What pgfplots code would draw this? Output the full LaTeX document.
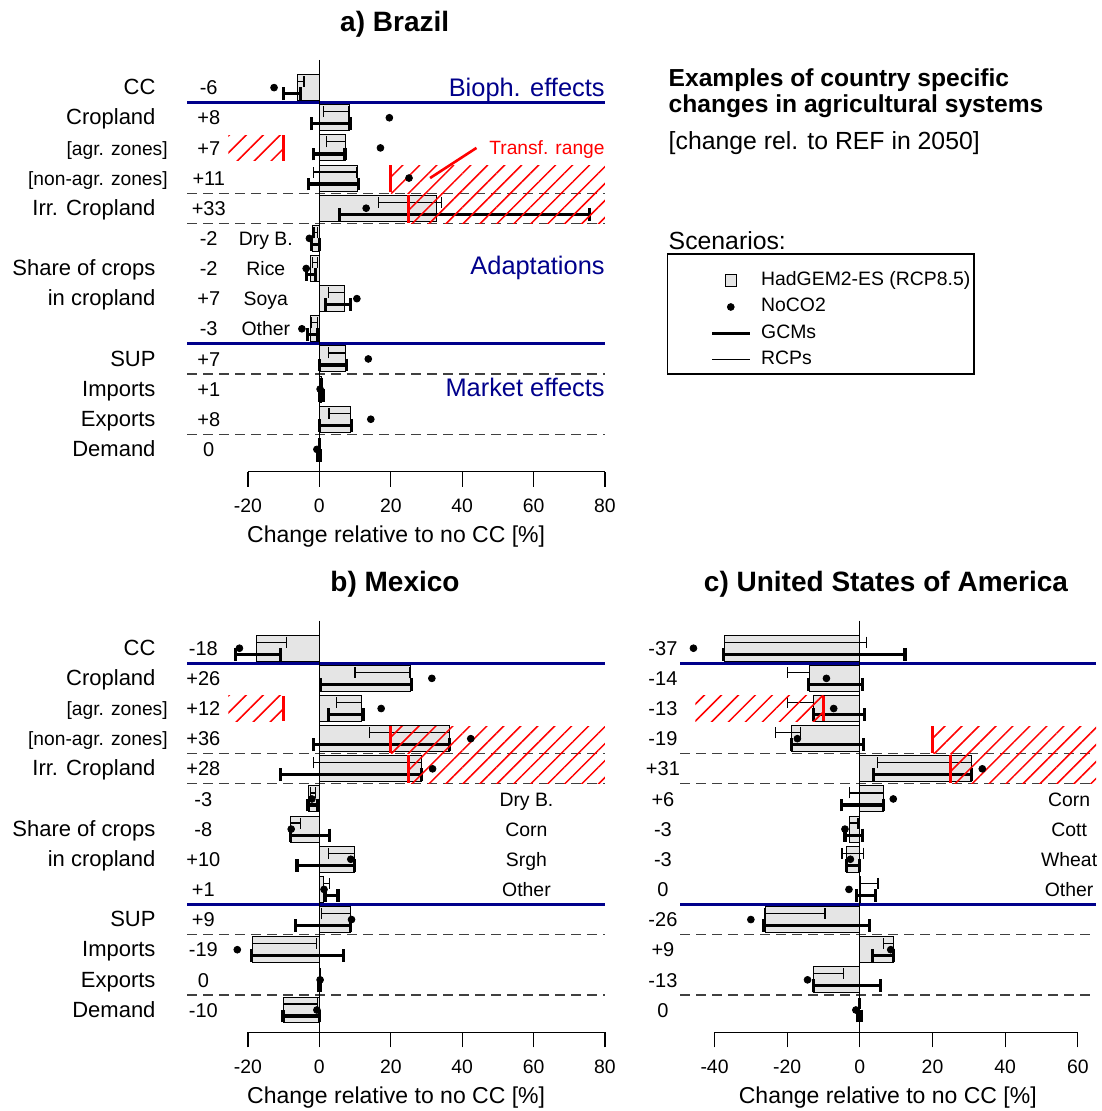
\documentclass[border=0pt]{standalone}
\usepackage{fontspec}
\setmainfont{Liberation Sans}
\usepackage{pgfplots}
\pgfplotsset{compat=1.18}
\usepackage{pgfplotstable}
\usetikzlibrary{patterns.meta}

\definecolor{dblue}{RGB}{0,0,139}
\definecolor{barfill}{RGB}{229,229,229}

% row  val  rcp-lo rcp-hi gcm-lo gcm-hi noco2
\pgfplotstableread{
row val rlo rhi glo ghi dot
1 -6 -6.2 -4.3 -10.1 -5.2 -12.7
2 8.4 1.1 8.1 -2.1 8.6 19.6
3 7.4 2.1 7.4 -1.7 7.2 17.1
4 10.8 -1.7 10.5 -3.1 10.9 25.1
5 32.9 16.5 34.3 5.6 75.7 13.1
6 -1.9 -1.5 -0.5 -2.1 0 -2.8
7 -2.4 -2.0 -0.5 -3.7 -1.2 -3.7
8 7.0 2.5 7.0 1.6 8.8 10.5
9 -2.4 -2.2 -0.5 -3.3 -0.5 -4.9
10 7.4 2.5 7.4 0 7.7 13.7
11 0.7 0.3 0.8 0 1.2 0.2
12 8.8 2.7 8.8 0 9.1 14.4
13 0 -0.3 0.3 -0.5 0.3 -0.7
}\brazil

\pgfplotstableread{
row val rlo rhi glo ghi dot
1 -17.6 -17.6 -9.3 -23.6 -11 -22.4
2 25.4 10 25.4 0.2 25.9 31.5
3 11.9 4.9 11.9 2.5 12.2 17.3
4 36.5 14 36.5 -1.7 36.5 42.4
5 28.7 -1.7 28.7 -11 28.7 31.7
6 -3.1 -2.5 -1 -3.2 -0.5 -2.1
7 -8 -8 -5.3 -8.2 2.8 -7.9
8 9.8 2.5 9.8 -6.3 9.8 8.8
9 1.1 1.1 2.9 1.6 5.2 1.3
10 8.8 0.5 8.8 -6.8 8.8 9.0
11 -18.7 -18.7 -0.9 -19 6.7 -23
12 0 0 0.3 -0.3 0.3 0.2
13 -10.1 -10.1 -0.6 -10.2 0 -0.7
}\mexico

\pgfplotstableread{
row val rlo rhi glo ghi dot
1 -37.3 -37.3 1.8 -37.6 12.4 -45.8
2 -13.9 -20 -13.9 -14.2 0.7 -9.2
3 -12.7 -20 -12.7 -12.8 1.2 -7.2
4 -18.8 -23.2 -16.3 -18.8 0.9 -17.2
5 30.7 4.9 30.7 3.8 30.7 33.7
6 6.4 -2.8 6.4 -5 6.6 9.2
7 -2.8 -2.8 -0.5 -4.1 0.7 -4.1
8 -3.7 -4.9 1.1 -3.7 0 -2.6
9 0.2 0 5.0 -0.9 4.3 -3.0
10 -26.1 -26.1 -9.6 -26.4 2.75 -30
11 9.2 6.4 9.2 3.5 9.2 8.5
12 -12.8 -12.8 -4.5 -12.8 5.7 -14.4
13 0 -0.3 0.2 -0.5 0.3 -1.1
}\usa

\newcommand\fsz[1]{\fontsize{#1}{#1}\selectfont}

\tikzset{
  capc/.style={inner sep=0pt, text height=0.716em, text depth=0pt},
  lab/.style={capc, anchor=east, font=\fsz{11}},
  labs/.style={capc, anchor=east, font=\fsz{9.6}},
  val/.style={capc, anchor=center, font=\fsz{10}},
  crop/.style={capc, anchor=center, font=\fsz{9.7}},
  sect/.style={capc, anchor=east, font=\fsz{12.7}, text=dblue},
  ttl/.style={capc, anchor=center, font=\bfseries\fsz{14}},
}

\pgfplotsset{
  panel/.style={
    scale only axis, width=208.85pt, height=205.85pt,
    xmin=-37, xmax=80, ymin=-13.74, ymax=-0.084,
    clip=false, anchor=south west,
    axis x line*=bottom, hide y axis,
    x axis line style={draw=none},
    xtick={-20,0,20,40,60,80}, xticklabels={-20,0,20,40,60,80},
    tick align=outside, major tick length=7.5pt,
    every tick/.style={black, line width=0.6pt},
    xticklabel style={capc, font=\fsz{9.7}, yshift=-5.5pt},
  },
  bars/.style={xbar, bar width=0.86, fill=barfill, draw=black, line width=0.5pt, forget plot},
  rcp/.style={forget plot, draw=none, mark=none, error bars/.cd, x dir=both, x explicit,
     error mark=|,
     error bar style={draw=black, solid, line width=0.6pt},
     error mark options={draw=black, solid, line width=0.6pt, mark size=2.75pt}},
  gcm/.style={forget plot, draw=none, mark=none, error bars/.cd, x dir=both, x explicit,
     error mark=|,
     error bar style={draw=black, solid, line width=1.6pt},
     error mark options={draw=black, solid, line width=1.6pt, mark size=3.2pt}},
  dots/.style={forget plot, only marks, mark=*, mark size=1.7pt, black, mark options={fill=black}},
  sep/.style={forget plot, dblue, line width=1.5pt},
  dsep/.style={forget plot, black!75, dash pattern=on 5pt off 3pt, line width=0.6pt},
  hatch/.style={forget plot, draw=none, pattern={Lines[angle=45,distance=6pt,line width=0.75pt]}, pattern color=red},
  redl/.style={forget plot, red, line width=1.3pt},
  axl/.style={forget plot, black, line width=0.6pt},
}

% #1 table, #2 xmin, #3 xmax, #4 agr hatch left, #5 tick first, #6 tick last
\newcommand\panelplots[6]{%
  \addplot[sep] coordinates {(#2,-1.5) (#3,-1.5)};
  \addplot[sep] coordinates {(#2,-9.5) (#3,-9.5)};
  \addplot[dsep] coordinates {(#2,-4.5) (#3,-4.5)};
  \addplot[dsep] coordinates {(#2,-5.5) (#3,-5.5)};
  \addplot[dsep] coordinates {(#2,-10.5) (#3,-10.5)};
  \addplot[dsep] coordinates {(#2,-12.5) (#3,-12.5)};
  \addplot[bars] table[x=val, y expr=-\thisrow{row}] {#1};
  \addplot[rcp] table[x expr=(\thisrow{rlo}+\thisrow{rhi})/2, y expr=-\thisrow{row}+0.2, x error expr=(\thisrow{rhi}-\thisrow{rlo})/2] {#1};
  \addplot[gcm] table[x expr=(\thisrow{glo}+\thisrow{ghi})/2, y expr=-\thisrow{row}-0.2, x error expr=(\thisrow{ghi}-\thisrow{glo})/2] {#1};
  \addplot[axl] coordinates {(0,-0.084) (0,-13.74)};
  \addplot[dots] table[x=dot, y expr=-\thisrow{row}] {#1};
  \addplot[hatch] coordinates {(#4,-2.58) (-10,-2.58) (-10,-3.42) (#4,-3.42)} -- cycle;
  \addplot[redl] coordinates {(-10,-2.58) (-10,-3.42)};
  \addplot[hatch] coordinates {(20,-3.58) (#3,-3.58) (#3,-4.5) (20,-4.5)} -- cycle;
  \addplot[redl] coordinates {(20,-3.58) (20,-4.46)};
  \addplot[hatch] coordinates {(25,-4.5) (#3,-4.5) (#3,-5.5) (25,-5.5)} -- cycle;
  \addplot[redl] coordinates {(25,-4.55) (25,-5.48)};
  \addplot[axl] coordinates {(#5,-13.74) (#6,-13.74)};
}

\newcommand\rowlabs{%
  \node[lab] at (axis cs:-45.8,-1) {CC};
  \node[lab] at (axis cs:-45.8,-2) {Cropland};
  \node[labs] at (axis cs:-42.4,-3) {[agr. zones]};
  \node[labs] at (axis cs:-42.4,-4) {[non-agr. zones]};
  \node[lab] at (axis cs:-45.8,-5) {Irr. Cropland};
  \node[lab] at (axis cs:-45.8,-7) {Share of crops};
  \node[lab] at (axis cs:-45.8,-8) {in cropland};
  \node[lab] at (axis cs:-45.8,-10) {SUP};
  \node[lab] at (axis cs:-45.8,-11) {Imports};
  \node[lab] at (axis cs:-45.8,-12) {Exports};
  \node[lab] at (axis cs:-45.8,-13) {Demand};
}

\newcommand\vals[2]{% x, list
  \pgfplotsforeachungrouped \r/\t in {#2}{%
    \edef\tmp{\noexpand\node[val] at (axis cs:#1,-\r) {\t};}\tmp
  }%
}

\begin{document}
\begin{tikzpicture}
\useasboundingbox (0,0) rectangle (550.5pt,-555.5pt);

\node[ttl] at (197.35pt,-12pt) {a) Brazil};
\node[ttl] at (197.5pt,-292.3pt) {b) Mexico};
\node[ttl] at (443pt,-292.3pt) {c) United States of America};
\node[capc, anchor=west, font=\bfseries\fsz{12.3}] at (334.15pt,-39.65pt) {Examples of country specific};
\node[capc, anchor=west, font=\bfseries\fsz{12.3}] at (334.15pt,-52.5pt) {changes in agricultural systems};
\node[capc, anchor=west, font=\fsz{12.4}] at (334.15pt,-71pt) {[change rel. to REF in 2050]};
\node[capc, anchor=west, font=\fsz{12.4}] at (334.15pt,-121pt) {Scenarios:};
\draw[line width=0.6pt] (333.65pt,-127pt) rectangle (487pt,-187pt);

% ---------------- Brazil
\begin{axis}[panel, at={(93.65pt,-235.85pt)},
  legend style={at={(axis description cs:1.2514,0.4868)}, anchor=north west,
    draw=none, fill=none, inner sep=0pt, row sep=4.15pt, column sep=3pt,
    font=\fsz{9.7}, nodes={text height=7pt, text depth=2pt, inner ysep=0pt, inner xsep=2pt}},
  legend cell align=left]
\panelplots{\brazil}{-37}{80}{-25.5}{-20}{80}
\addplot[redl] coordinates {(31,-4.0) (44,-3.0)};
\addlegendimage{legend image code/.code={\draw[fill=barfill, draw=black, line width=0.5pt] (0.23cm,-0.1cm) rectangle (0.43cm,0.1cm);}}
\addlegendentry{HadGEM2-ES (RCP8.5)}
\addlegendimage{legend image code/.code={\fill[black] (0.33cm,0cm) circle (1.7pt);}}
\addlegendentry{NoCO2}
\addlegendimage{legend image code/.code={\draw[black, line width=1.6pt] (0cm,0cm) -- (0.66cm,0cm);}}
\addlegendentry{GCMs}
\addlegendimage{legend image code/.code={\draw[black, line width=0.6pt] (0cm,0cm) -- (0.66cm,0cm);}}
\addlegendentry{RCPs}
\rowlabs
\vals{-31}{1/-6,2/+8,3/+7,4/+11,5/+33,6/-2,7/-2,8/+7,9/-3,10/+7,11/+1,12/+8,13/0}
\node[crop] at (axis cs:-15,-6) {Dry B.};
\node[crop] at (axis cs:-15,-7) {Rice};
\node[crop] at (axis cs:-15,-8) {Soya};
\node[crop] at (axis cs:-15,-9) {Other};
\node[sect] at (axis cs:80,-1.05) {Bioph. effects};
\node[sect] at (axis cs:80,-6.95) {Adaptations};
\node[sect] at (axis cs:80,-11) {Market effects};
\node[capc, anchor=east, font=\fsz{9.6}, text=red] at (axis cs:80,-2.97) {Transf. range};
\node[capc, anchor=center, font=\fsz{11.5}] at (axis cs:21.5,-15.85) {Change relative to no CC [\%]};
\end{axis}

% ---------------- Mexico
\begin{axis}[panel, at={(93.65pt,-516.15pt)}]
\panelplots{\mexico}{-37}{80}{-25.5}{-20}{80}
\rowlabs
\vals{-32.5}{1/-18,2/+26,3/+12,4/+36,5/+28,6/-3,7/-8,8/+10,9/+1,10/+9,11/-19,12/0,13/-10}
\node[crop] at (axis cs:58,-6) {Dry B.};
\node[crop] at (axis cs:58,-7) {Corn};
\node[crop] at (axis cs:58,-8) {Srgh};
\node[crop] at (axis cs:58,-9) {Other};
\node[capc, anchor=center, font=\fsz{11.5}] at (axis cs:21.5,-15.85) {Change relative to no CC [\%]};
\end{axis}

% ---------------- USA
\begin{axis}[panel, at={(340pt,-516.15pt)}, width=208pt,
  xmin=-49.5, xmax=65,
  xtick={-40,-20,0,20,40,60}, xticklabels={-40,-20,0,20,40,60}]
\panelplots{\usa}{-49.5}{65}{-45.3}{-40}{60}
\vals{-54.2}{1/-37,2/-14,3/-13,4/-19,5/+31,6/+6,7/-3,8/-3,9/0,10/-26,11/+9,12/-13,13/0}
\node[crop] at (axis cs:57.6,-6) {Corn};
\node[crop] at (axis cs:57.6,-7) {Cott};
\node[crop] at (axis cs:57.6,-8) {Wheat};
\node[crop] at (axis cs:57.6,-9) {Other};
\node[capc, anchor=center, font=\fsz{11.5}] at (axis cs:7.7,-15.85) {Change relative to no CC [\%]};
\end{axis}
\end{tikzpicture}
\end{document}
